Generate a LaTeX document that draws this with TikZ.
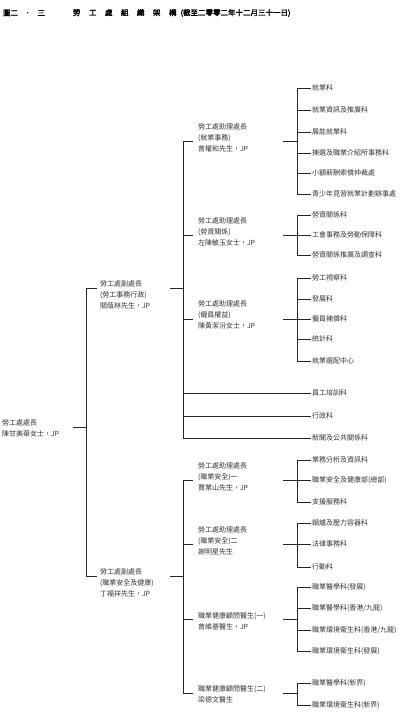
\documentclass[tikz,border=0pt]{standalone}
\usepackage{fontspec}
\setmainfont{Noto Sans CJK TC}
\newfontfamily\titlefont{Noto Sans CJK TC}[FakeBold=2]
\begin{document}
\begin{tikzpicture}[x=1pt,y=-1pt,
  every node/.style={inner sep=0pt,outer sep=0pt},
  lbl/.style={anchor=west,font=\fontsize{7}{10.8}\selectfont,align=left,text=black!80},
  leaf/.style={lbl,outer xsep=1pt},
  ttl/.style={anchor=west,font=\titlefont\fontsize{7.5}{9}\selectfont,text=black},
  conn/.style={line width=0.8pt,black!85}]
\useasboundingbox (0,0) rectangle (420,726);
\fill[white] (0,0) rectangle (420,726);

% title
\node[ttl] (t1) at (3,13) {圖二\hspace{6pt}．\hspace{6pt}三};
\node[ttl] (t2) at (73,13) {勞\hspace{8.5pt}工\hspace{8.5pt}處\hspace{8.5pt}組\hspace{8.5pt}織\hspace{8.5pt}架\hspace{8.5pt}構\hspace{4pt}(截至二零零二年十二月三十一日)};

% root
\node[lbl] (root) at (2,428) {勞工處處長\\陳甘美華女士，JP};
\coordinate (rs) at (73,427);
\coordinate (rb) at (86,427);
\draw[conn] (rs) -- (rb);
\draw[conn] (86,288) -- (86,576);

% deputies
\node[lbl] (dep1) at (100,295) {勞工處副處長\\(勞工事務行政)\\關蔭林先生，JP};
\node[lbl] (dep2) at (100,583) {勞工處副處長\\(職業安全及健康)\\丁福祥先生，JP};
\draw[conn] (86,288) -- ([xshift=-3pt]dep1.west |- 0,288);
\draw[conn] (86,576) -- ([xshift=-3pt]dep2.west |- 0,576);
\draw[conn] (170,288) -- (183,288);
\draw[conn] (170,576) -- (183,576);
\draw[conn] (183,141) -- (183,438);
\draw[conn] (183,480) -- (183,693);

% assistant commissioners
\node[lbl] (ac1) at (198,138) {勞工處助理處長\\(就業事務)\\曾權和先生，JP};
\node[lbl] (ac2) at (198,232) {勞工處助理處長\\(勞資關係)\\左陳敏玉女士，JP};
\node[lbl] (ac3) at (198,315) {勞工處助理處長\\(僱員權益)\\陳黃潔汾女士，JP};
\node[lbl] (ac4) at (198,477) {勞工處助理處長\\(職業安全)一\\賈業山先生，JP};
\node[lbl] (ac5) at (198,541) {勞工處助理處長\\(職業安全)二\\謝明星先生};
\node[lbl] (ac6) at (198,621) {職業健康顧問醫生(一)\\曾維基醫生，JP};
\node[lbl] (ac7) at (198,694) {職業健康顧問醫生(二)\\梁德文醫生};
\foreach \n/\y in {ac1/141,ac2/235,ac3/319,ac4/480,ac5/544,ac6/619,ac7/693}{
  \draw[conn] (183,\y) -- ([xshift=-5pt]\n.west |- 0,\y);
  \draw[conn] (283,\y) -- (297,\y);
}

% buses of sections
\draw[conn] (297,88) -- (297,194);
\draw[conn] (297,215) -- (297,255);
\draw[conn] (297,278) -- (297,361);
\draw[conn] (297,460) -- (297,502);
\draw[conn] (297,523) -- (297,567);
\draw[conn] (297,587) -- (297,651);
\draw[conn] (297,683) -- (297,705);

% sections
\node[leaf] (s1) at (311,88) {就業科};
\node[leaf] (s2) at (311,110) {就業資訊及推廣科};
\node[leaf] (s3) at (311,132) {展能就業科};
\node[leaf] (s4) at (311,153) {揀選及職業介紹所事務科};
\node[leaf] (s5) at (311,173) {小額薪酬索償仲裁處};
\node[leaf] (s6) at (311,194) {青少年見習就業計劃辦事處};
\node[leaf] (s7) at (311,215) {勞資關係科};
\node[leaf] (s8) at (311,235) {工會事務及勞動保障科};
\node[leaf] (s9) at (311,255) {勞資關係推廣及調查科};
\node[leaf] (s10) at (311,278) {勞工視察科};
\node[leaf] (s11) at (311,299) {發展科};
\node[leaf] (s12) at (311,319) {僱員補償科};
\node[leaf] (s13) at (311,339) {統計科};
\node[leaf] (s14) at (311,361) {就業選配中心};
\node[leaf] (s15) at (311,393) {員工培訓科};
\node[leaf] (s16) at (311,416) {行政科};
\node[leaf] (s17) at (311,438) {新聞及公共關係科};
\node[leaf] (s18) at (311,460) {業務分析及資訊科};
\node[leaf] (s19) at (311,480) {職業安全及健康部(總部)};
\node[leaf] (s20) at (311,502) {支援服務科};
\node[leaf] (s21) at (311,523) {鍋爐及壓力容器科};
\node[leaf] (s22) at (311,544) {法律事務科};
\node[leaf] (s23) at (311,567) {行動科};
\node[leaf] (s24) at (311,587) {職業醫學科(發展)};
\node[leaf] (s25) at (311,608) {職業醫學科(香港/九龍)};
\node[leaf] (s26) at (311,630) {職業環境衞生科(香港/九龍)};
\node[leaf] (s27) at (311,651) {職業環境衞生科(發展)};
\node[leaf] (s28) at (311,683) {職業醫學科(新界)};
\node[leaf] (s29) at (311,705) {職業環境衞生科(新界)};

\foreach \n/\y in {s1/88,s2/110,s3/132,s4/153,s5/173,s6/194,s7/215,s8/235,s9/255,
  s10/278,s11/299,s12/319,s13/339,s14/361,s18/460,s19/480,s20/502,s21/523,s22/544,
  s23/567,s24/587,s25/608,s26/630,s27/651,s28/683,s29/705}{
  \draw[conn] (297,\y) -- (\n.west);
}
\foreach \n/\y in {s15/393,s16/416,s17/438}{
  \draw[conn] (183,\y) -- (\n.west);
}
\end{tikzpicture}
\end{document}
